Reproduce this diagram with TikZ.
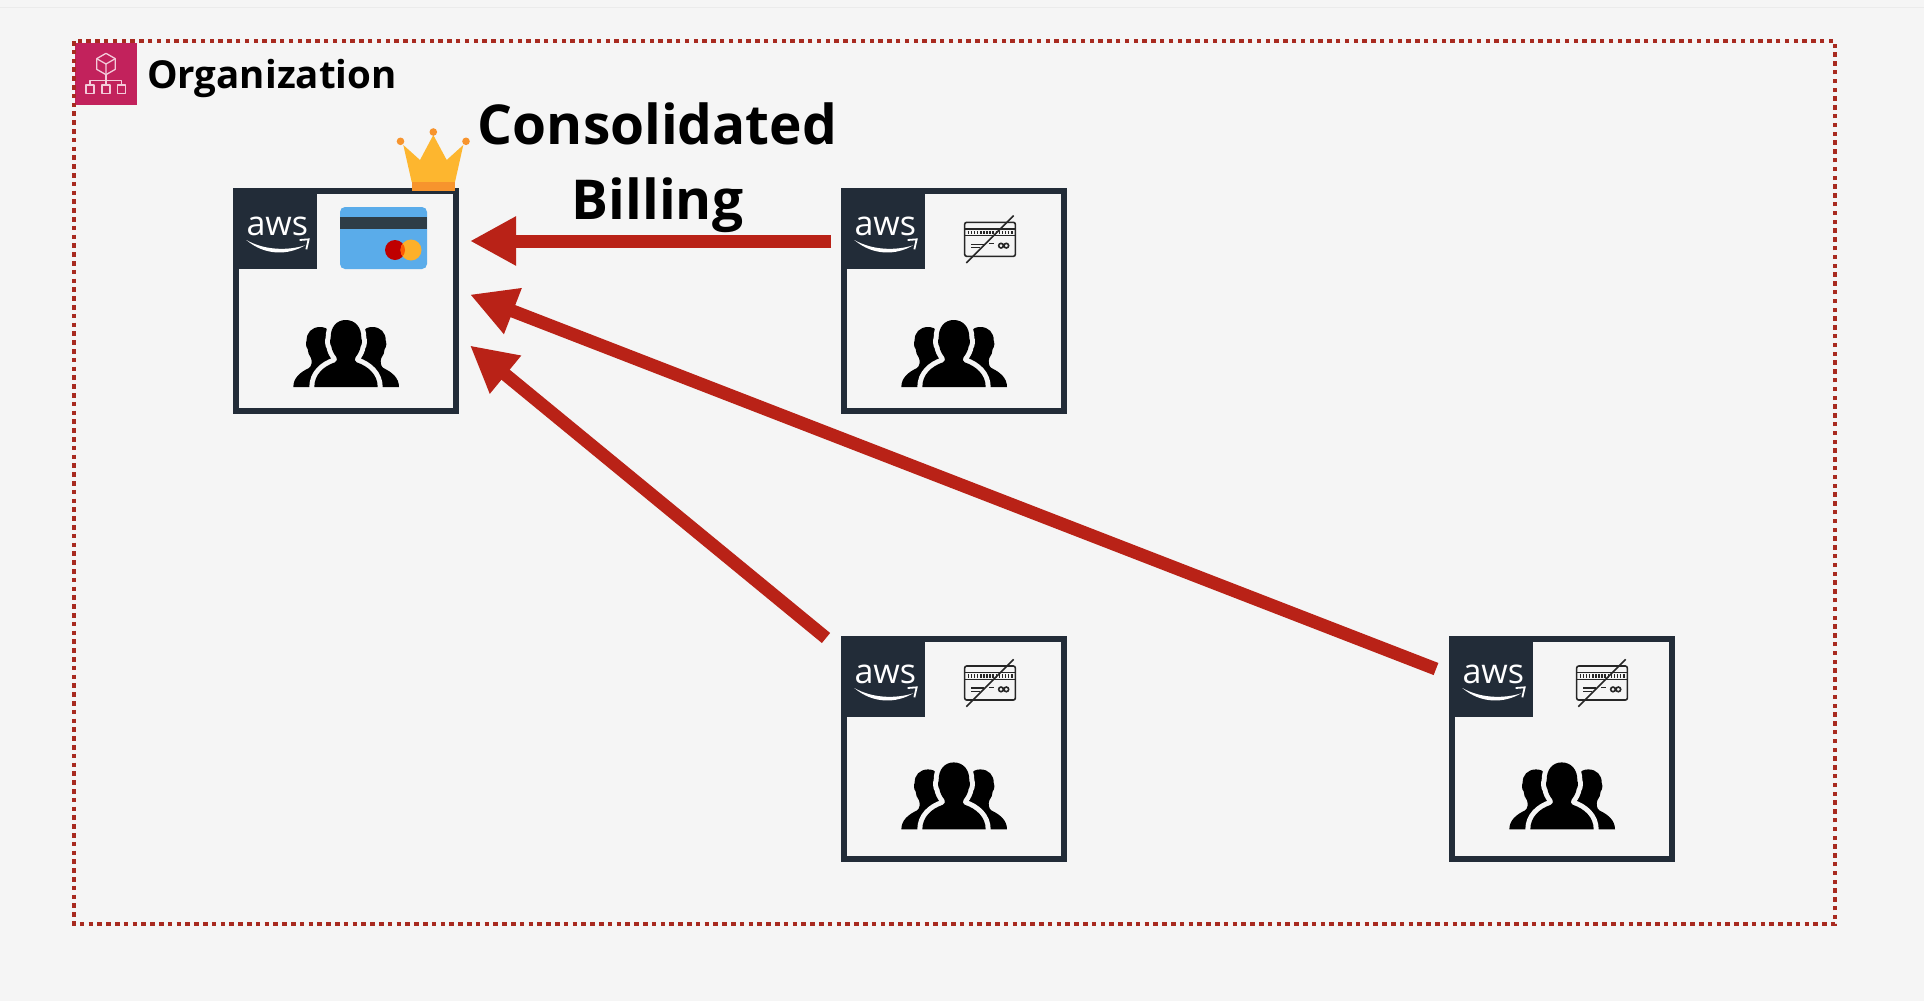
\documentclass[tikz,border=0pt]{standalone}
\usepackage{fontspec}
\setmainfont{Open Sans}
\usetikzlibrary{arrows.meta}
\definecolor{pagebg}{HTML}{F5F5F5}
\definecolor{awsnavy}{HTML}{222C38}
\definecolor{flowred}{HTML}{B92217}
\definecolor{orgred}{HTML}{A82A20}
\definecolor{orgpink}{HTML}{C2225C}
\definecolor{iconpink}{HTML}{F3CBDA}
\definecolor{cardblue}{HTML}{5AACEA}
\definecolor{cardstrip}{HTML}{2E3D47}
\definecolor{crowngold}{HTML}{FDB62F}
\definecolor{crownband}{HTML}{F7942D}
\def\centralfigure{(278,652) .. controls (278,615) and (305,590) .. (340,578) .. controls (347,575) and (347,568) .. (344,562) .. controls (336,552) and (331,542) .. (329,530) .. controls (325,526) and (324,512) .. (327,506) .. controls (326,472) and (345,451) .. (372,451) .. controls (400,451) and (420,472) .. (419,506) .. controls (422,512) and (421,526) .. (417,530) .. controls (415,542) and (410,552) .. (402,562) .. controls (398,568) and (398,575) .. (405,578) .. controls (440,590) and (468,615) .. (468,652) -- cycle}
\tikzset{
  acct/.style={draw=awsnavy,line width=6pt,minimum size=220pt,inner sep=0pt},
  flow/.style={draw=flowred,line width=13pt,-{Triangle[length=46pt,width=46pt]},color=flowred},
  orgbound/.style={draw=orgred,line width=4.8pt,dash pattern=on 4.5pt off 4.3pt},
  zoomunits/.style={x=.33333pt,y=-.33333pt,shift={(-34,-55)}},
  awsbadge/.pic={
    \fill[awsnavy] (0,0) rectangle (84,81);
    \begin{scope}[zoomunits]
      \node[text=white,anchor=base,inner sep=0pt,font=\fontsize{34}{34}\selectfont] (-word) at (167,196) {aws};
      \fill[white] (74,211) .. controls (130,259) and (200,257) .. (250,227) .. controls (200,243) and (130,243) .. cycle;
      \draw[white,line width=1.8pt,line join=miter] (234,211) -- (261,209) -- (254,239);
    \end{scope}
  },
  people/.pic={
    \begin{scope}[zoomunits]
      \fill[black] (215,652) .. controls (215,625) and (235,608) .. (262,595) .. controls (270,590) and (272,575) .. (268,565) .. controls (262,556) and (258,548) .. (258,538) .. controls (252,532) and (252,518) .. (255,512) .. controls (254,490) and (270,472) .. (295,472) .. controls (320,472) and (335,490) .. (335,520) -- (350,652) -- cycle;
      \fill[black] (532,652) .. controls (532,625) and (512,608) .. (485,595) .. controls (477,590) and (475,575) .. (479,565) .. controls (485,556) and (489,548) .. (489,538) .. controls (495,532) and (495,518) .. (492,512) .. controls (493,490) and (477,472) .. (452,472) .. controls (427,472) and (412,490) .. (412,520) -- (397,652) -- cycle;
      \path[draw=pagebg,line width=10pt] \centralfigure;
      \fill[black] \centralfigure;
    \end{scope}
  },
  nocard/.pic={
    \begin{scope}[zoomunits,draw=black!85]
      \draw[line width=1.6pt,rounded corners=2pt] (405,158) rectangle (557,260);
      \draw[line width=1.4pt] (405,178) -- (557,178) (405,198) -- (557,198);
      \draw[line width=3.2pt,dash pattern=on 1.5pt off 1.6pt] (414,188) -- (550,188);
      \draw[line width=1.5pt] (424,224) -- (462,224) (424,234) -- (450,234) (478,222) -- (492,222);
      \draw[line width=1.6pt] (514,228) circle (7) (530,228) circle (7);
      \draw[line width=1.6pt] (410,280) -- (552,138);
    \end{scope}
  }
}
\begin{document}
\begin{tikzpicture}[x=1pt,y=-1pt]
\useasboundingbox (0,0) rectangle (1924,1001);
\fill[pagebg] (0,0) rectangle (1924,1001);
\draw[black!8,line width=1pt] (0,7.5) -- (1924,7.5);

% organization icon
\fill[orgpink] (75,43) rectangle (137,105);
\begin{scope}[x=.33333pt,y=-.33333pt,shift={(180,90)},draw=iconpink,line width=1.3pt,line join=round]
  \draw (138,70) -- (166,86) -- (166,118) -- (138,134) -- (110,118) -- (110,86) -- cycle;
  \draw (110,86) -- (138,102) -- (166,86) (138,102) -- (138,134);
  \draw (138,134) -- (138,165) (90,165) -- (90,152) -- (185,152) -- (185,165);
  \draw (78,165) rectangle (102,190) (126,165) rectangle (150,190) (173,165) rectangle (197,190);
\end{scope}
\draw[orgbound] (74,41) rectangle (1835,924);
\node[font=\fontsize{38.5}{39}\selectfont\bfseries,anchor=base west,inner sep=0pt] (orgtitle) at (147,88) {Organization};

% accounts
\node[acct] (a1) at (346,301) {};
\node[acct] (a2) at (954,301) {};
\node[acct] (a3) at (954,749) {};
\node[acct] (a4) at (1562,749) {};
\pic (b1) at (233,188) {awsbadge};
\pic (b2) at (841,188) {awsbadge};
\pic (b3) at (841,636) {awsbadge};
\pic (b4) at (1449,636) {awsbadge};
\pic (p1) at (233,188) {people};
\pic (p2) at (841,188) {people};
\pic (p3) at (841,630.4) {people};
\pic (p4) at (1449,630.4) {people};
\pic (c2) at (841,188) {nocard};
\pic (c3) at (841,631.7) {nocard};
\pic (c4) at (1453,631.7) {nocard};

% credit card of the management account
\fill[cardblue,rounded corners=5pt] (340,207) rectangle (427,269);
\fill[cardstrip] (340,217) rectangle (427,229);
\fill[red!75!black] (395,250) circle (10);
\fill[crowngold!90!orange] (411,250) circle (10.5);
\begin{scope}
  \clip (395,250) circle (10);
  \fill[orange!70!red] (411,250) circle (10.5);
\end{scope}

% crown
\fill[crowngold] (411.7,182) -- (403.3,145) -- (420,160) -- (433.3,135) -- (446.7,160) -- (463.3,145) -- (455,182) -- cycle;
\fill[crownband] (411.7,182) rectangle (455,191);
\fill[crownband] (400.5,141.3) circle (3.8) (433.3,132) circle (3.8) (466,141.3) circle (3.8);

% heading
\node[font=\fontsize{55}{75}\selectfont\bfseries,align=center,inner sep=0pt] (heading) at (657.5,168) {Consolidated\\Billing};

% arrows
\coordinate (tip1) at (470,241);
\coordinate (tip2) at (470,294.5);
\coordinate (tip3) at (470,345.5);
\coordinate (tail1) at (831,241);
\coordinate (tail2) at (1436,669);
\coordinate (tail3) at (826,638);
\draw[flow] (tail1) -- (tip1);
\draw[flow] (tail2) -- (tip2);
\draw[flow] (tail3) -- (tip3);
\end{tikzpicture}
\end{document}
